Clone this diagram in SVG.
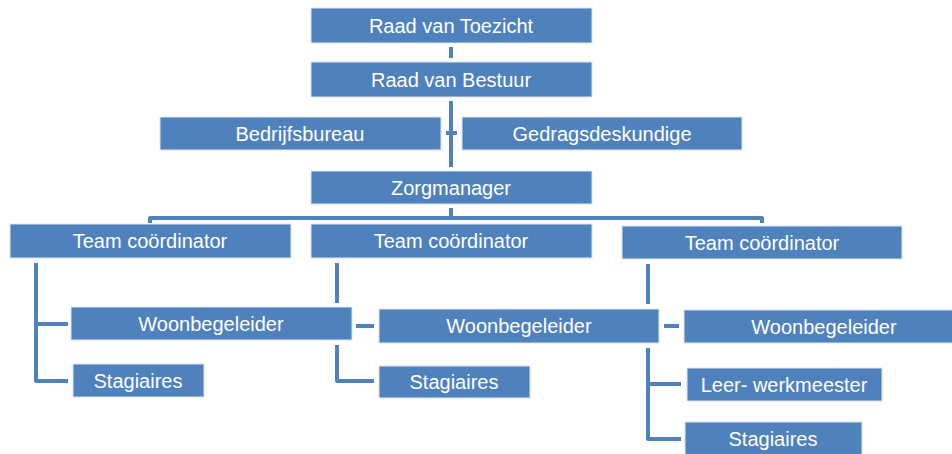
<svg xmlns="http://www.w3.org/2000/svg" width="952" height="454" viewBox="0 0 952 454">
<style>
.box{fill:#4f81bd;stroke:#dbe5f1;stroke-width:1}
.lbl{font-family:"Liberation Sans",Arial,sans-serif;font-size:20px;fill:#ffffff;text-anchor:middle}
.ln{fill:none;stroke:#4f81bd;stroke-width:4;stroke-linecap:butt;stroke-linejoin:round}
</style>
<rect width="952" height="454" fill="#ffffff"/>
<g id="connectors">
<path class="ln" d="M451 47 V58"/>
<path class="ln" d="M451 101 V167"/>
<path class="ln" d="M446 133 H457"/>
<path class="ln" d="M451 208 V218"/>
<path class="ln" d="M150 223 V218 H762 V223"/>
<path class="ln" d="M36 263 V381 H68"/>
<path class="ln" d="M36 324 H68"/>
<path class="ln" d="M337 263 V303"/>
<path class="ln" d="M356 326 H374"/>
<path class="ln" d="M337 345 V381 H374"/>
<path class="ln" d="M648 264 V304"/>
<path class="ln" d="M664 326 H679"/>
<path class="ln" d="M648 348 V439 H681"/>
<path class="ln" d="M648 384 H681"/>
</g>
<g id="raad-van-toezicht"><rect class="box" x="311" y="8" width="281" height="35"/><text class="lbl" x="451" y="33">Raad van Toezicht</text></g>
<g id="raad-van-bestuur"><rect class="box" x="311" y="62" width="281" height="35"/><text class="lbl" x="451" y="87">Raad van Bestuur</text></g>
<g id="bedrijfsbureau"><rect class="box" x="160" y="117" width="281" height="33"/><text class="lbl" x="300" y="141">Bedrijfsbureau</text></g>
<g id="gedragsdeskundige"><rect class="box" x="462" y="117" width="280" height="33"/><text class="lbl" x="602" y="141">Gedragsdeskundige</text></g>
<g id="zorgmanager"><rect class="box" x="311" y="171" width="281" height="33"/><text class="lbl" x="451" y="195">Zorgmanager</text></g>
<g id="team-coordinator-1"><rect class="box" x="10" y="224" width="281" height="34"/><text class="lbl" x="150" y="248">Team coördinator</text></g>
<g id="team-coordinator-2"><rect class="box" x="311" y="224" width="281" height="34"/><text class="lbl" x="451" y="248">Team coördinator</text></g>
<g id="team-coordinator-3"><rect class="box" x="622" y="226" width="280" height="33"/><text class="lbl" x="762" y="250">Team coördinator</text></g>
<g id="woonbegeleider-1"><rect class="box" x="71" y="307" width="281" height="33"/><text class="lbl" x="211" y="331">Woonbegeleider</text></g>
<g id="stagiaires-1"><rect class="box" x="73" y="364" width="131" height="33"/><text class="lbl" x="138" y="388">Stagiaires</text></g>
<g id="woonbegeleider-2"><rect class="box" x="379" y="309" width="280" height="34"/><text class="lbl" x="519" y="333">Woonbegeleider</text></g>
<g id="stagiaires-2"><rect class="box" x="379" y="366" width="151" height="32"/><text class="lbl" x="454" y="389">Stagiaires</text></g>
<g id="woonbegeleider-3"><rect class="box" x="684" y="310" width="280" height="33"/><text class="lbl" x="824" y="334">Woonbegeleider</text></g>
<g id="leer-werkmeester"><rect class="box" x="687" y="368" width="195" height="33"/><text class="lbl" x="784" y="392">Leer- werkmeester</text></g>
<g id="stagiaires-3"><rect class="box" x="685" y="422" width="177" height="40"/><text class="lbl" x="773" y="446">Stagiaires</text></g>
</svg>
